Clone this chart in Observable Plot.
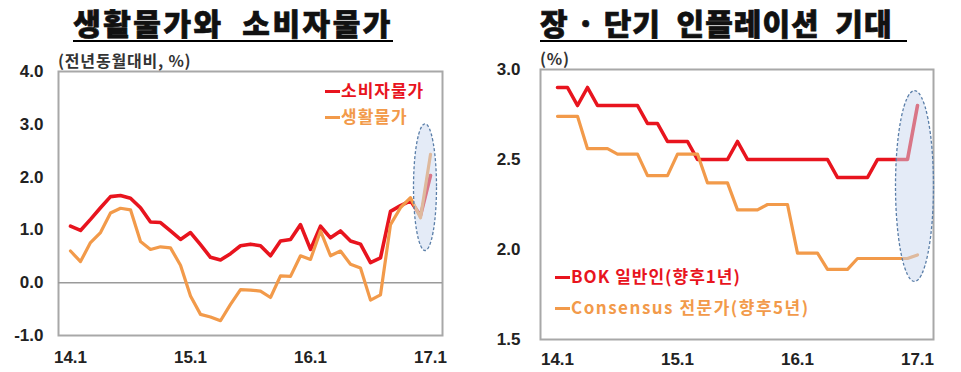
<!DOCTYPE html>
<html>
<head>
<meta charset="utf-8">
<script src="https://cdn.jsdelivr.net/npm/d3@7"></script>
<script src="https://cdn.jsdelivr.net/npm/@observablehq/plot@0.6"></script>
<style>
  html, body { margin: 0; padding: 0; background: #fff; }
  #wrap { position: relative; width: 961px; height: 372px; overflow: hidden; background: #fff; }
  .title { position: absolute; top: 5px; height: 35px; line-height: 35px; font-family: 'Noto Sans CJK KR', sans-serif; font-weight: 900; font-size: 30px; letter-spacing: 2.5px; white-space: pre; text-align: center; border-bottom: 2px solid #000; color: #111; -webkit-text-stroke: 0.7px #111; }
  .unit { position: absolute; font-family: 'Noto Sans CJK KR', sans-serif; font-weight: bold; font-size: 16px; line-height: 18px; letter-spacing: 0.8px; color: #333; white-space: pre; }
  .leg { position: absolute; font-family: 'Noto Sans CJK KR', sans-serif; font-weight: bold; font-size: 17px; line-height: 20px; white-space: pre; letter-spacing: 1px; }
  .sw { display: inline-block; width: 15px; height: 3.5px; vertical-align: middle; margin-right: 1px; position: relative; top: -1px; }
  .panel { position: absolute; top: 48px; }
</style>
</head>
<body>
<div id="wrap">
  <div class="title" style="left:73px;width:320px;">생활물가와  소비자물가</div>
  <div class="title" style="left:540px;width:367px;letter-spacing:1px;text-align:left;">장 · 단기  인플레이션  기대</div>
  <div class="unit" style="left:58px;top:51px;">(전년동월대비, %)</div>
  <div class="unit" style="left:540px;top:49px;">(%)</div>
  <div id="left" class="panel" style="left:0px;"></div>
  <div id="right" class="panel" style="left:480px;"></div>
  <div class="leg" style="left:325px;top:80px;color:#e8141e;"><span class="sw" style="background:#e8141e"></span>소비자물가</div>
  <div class="leg" style="left:325px;top:106px;color:#f29a4a;"><span class="sw" style="background:#f29a4a"></span>생활물가</div>
  <div class="leg" style="left:555px;top:266px;color:#e8141e;"><span class="sw" style="background:#e8141e"></span>BOK 일반인(향후1년)</div>
  <div class="leg" style="left:555px;top:297px;color:#f29a4a;letter-spacing:1.5px;"><span class="sw" style="background:#f29a4a"></span>Consensus 전문가(향후5년)</div>
</div>
<script>
// ---- data ----
const months = [
  "14.1","14.2","14.3","14.4","14.5","14.6","14.7","14.8","14.9","14.10","14.11","14.12",
  "15.1","15.2","15.3","15.4","15.5","15.6","15.7","15.8","15.9","15.10","15.11","15.12",
  "16.1","16.2","16.3","16.4","16.5","16.6","16.7","16.8","16.9","16.10","16.11","16.12",
  "17.1"
];
const tickMonths = ["14.1", "15.1", "16.1", "17.1"];

// 소비자물가 (전년동월대비, %)
const cpi = [1.07, 0.99, 1.2, 1.42, 1.63, 1.65, 1.6, 1.42, 1.15, 1.14, 0.98, 0.82,
             0.95, 0.72, 0.48, 0.43, 0.55, 0.7, 0.73, 0.7, 0.51, 0.79, 0.82, 1.1,
             0.63, 1.07, 0.85, 0.98, 0.79, 0.73, 0.38, 0.47, 1.35, 1.46, 1.55, 1.27,
             2.03];
// 생활물가 (전년동월대비, %)
const living = [0.6, 0.4, 0.76, 0.95, 1.32, 1.41, 1.38, 0.78, 0.63, 0.68, 0.66, 0.33,
                -0.25, -0.6, -0.65, -0.72, -0.41, -0.13, -0.14, -0.16, -0.28, 0.13, 0.12, 0.51,
                0.44, 0.98, 0.51, 0.6, 0.35, 0.28, -0.33, -0.23, 1.1, 1.42, 1.61, 1.23,
                2.43];
// BOK 일반인 기대인플레이션 (향후1년, %)
const bok = [2.9, 2.9, 2.8, 2.9, 2.8, 2.8, 2.8, 2.8, 2.8, 2.7, 2.7, 2.6,
             2.6, 2.6, 2.5, 2.5, 2.5, 2.5, 2.6, 2.5, 2.5, 2.5, 2.5, 2.5,
             2.5, 2.5, 2.5, 2.5, 2.4, 2.4, 2.4, 2.4, 2.5, 2.5, 2.5, 2.5,
             2.8];
// Consensus 전문가 (향후5년, %)
const consensus = [2.74, 2.74, 2.74, 2.56, 2.56, 2.56, 2.53, 2.53, 2.53, 2.41, 2.41, 2.41,
                   2.53, 2.53, 2.53, 2.37, 2.37, 2.37, 2.22, 2.22, 2.22, 2.25, 2.25, 2.25,
                   1.98, 1.98, 1.98, 1.89, 1.89, 1.89, 1.95, 1.95, 1.95, 1.95, 1.95, 1.95,
                   1.97];

const leftTicks = [-1, 0, 1, 2, 3, 4];
const rightTicks = [1.5, 2.0, 2.5, 3.0];

// highlighted recent period (annotation ellipses)
const leftHighlight = {from: "16.12", to: "17.1", shift: 0.5, halfWidth: 1.15, y1: 0.6, y2: 3.0};
const rightHighlight = {from: "16.12", to: "17.1", shift: 0.75, halfWidth: 1.9, y1: 1.82, y2: 2.88};

// ---- styles ----
const RED = "#e8141e";
const ORANGE = "#f29a4a";
const rows = (vals) => months.map((m, i) => ({m, v: vals[i]}));

function ellipseMark(h) {
  return (index, scales) => {
    const sx = typeof scales.x === "function" ? scales.x : scales.x.scale;
    const sy = typeof scales.y === "function" ? scales.y : scales.y.scale;
    const xa = sx(h.from), xb = sx(h.to);
    const step = xb - xa;
    const cx = xa + step * h.shift;
    const rx = step * h.halfWidth;
    const ya = sy(h.y1), yb = sy(h.y2);
    const g = d3.create("svg:g");
    g.append("ellipse")
      .attr("cx", cx).attr("cy", (ya + yb) / 2)
      .attr("rx", rx).attr("ry", Math.abs(ya - yb) / 2)
      .attr("fill", "#c9d8ef").attr("fill-opacity", 0.5)
      .attr("stroke", "#5a7ea8").attr("stroke-width", 1.3)
      .attr("stroke-dasharray", "3,2");
    return g.node();
  };
}

const axisStyle = {
  fontFamily: "'Liberation Sans', Arial, sans-serif",
  fontSize: "17px",
  fontWeight: "bold",
  color: "#222",
  background: "transparent",
  overflow: "visible"
};

const leftPlot = Plot.plot({
  width: 480, height: 324,
  marginLeft: 58, marginRight: 38, marginTop: 23, marginBottom: 37,
  style: axisStyle,
  x: {type: "point", domain: months, padding: 0, insetLeft: 4, insetRight: 4,
      ticks: tickMonths, tickSize: 0, tickPadding: 15, label: null},
  y: {domain: [-1, 4], ticks: leftTicks, tickFormat: d => d.toFixed(1),
      tickSize: 0, tickPadding: 15, label: null},
  marks: [
    Plot.frame({stroke: "#a8a8a8", strokeWidth: 2}),
    Plot.ruleY([0], {stroke: "#9a9a9a", strokeWidth: 1.6}),
    Plot.line(rows(cpi), {x: "m", y: "v", stroke: RED, strokeWidth: 3.6}),
    Plot.line(rows(living), {x: "m", y: "v", stroke: ORANGE, strokeWidth: 3.2}),
    ellipseMark(leftHighlight)
  ]
});
document.getElementById("left").appendChild(leftPlot);

const rightPlot = Plot.plot({
  width: 481, height: 324,
  marginLeft: 60, marginRight: 28, marginTop: 21, marginBottom: 33,
  style: axisStyle,
  x: {type: "point", domain: months, padding: 0, insetLeft: 5, insetRight: 5,
      ticks: tickMonths, tickSize: 0, tickPadding: 13, label: null},
  y: {domain: [1.5, 3.0], ticks: rightTicks, tickFormat: d => d.toFixed(1),
      tickSize: 0, tickPadding: 20, label: null},
  marks: [
    Plot.frame({stroke: "#a8a8a8", strokeWidth: 2}),
    Plot.line(rows(bok), {x: "m", y: "v", stroke: RED, strokeWidth: 3.6}),
    Plot.line(rows(consensus), {x: "m", y: "v", stroke: ORANGE, strokeWidth: 3.2}),
    ellipseMark(rightHighlight)
  ]
});
document.getElementById("right").appendChild(rightPlot);
</script>
</body>
</html>
